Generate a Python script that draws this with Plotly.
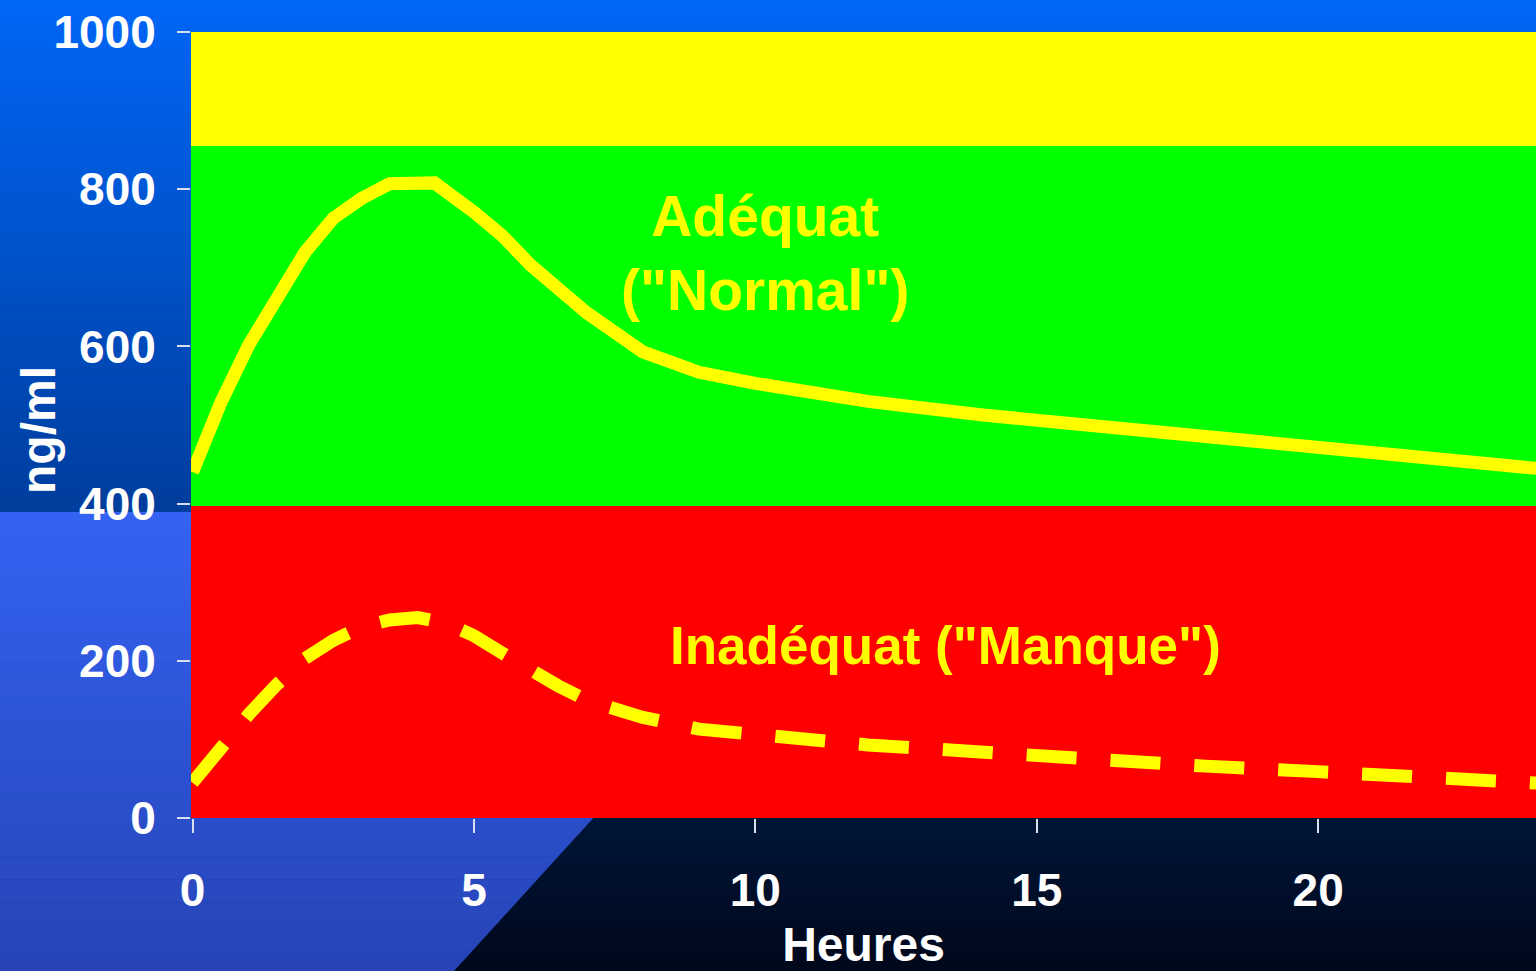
import plotly.graph_objects as go

# ---------------- data ----------------
hours_normal = [0, 0.5, 1, 1.5, 2, 2.5, 3, 3.5, 4, 4.3, 5, 5.5, 6, 7, 8, 9, 10, 12, 14, 16, 18, 20, 22, 24]
conc_normal = [440, 528, 602, 665, 720, 763, 788, 807, 810, 808, 771, 741, 704, 643, 593, 567, 553, 530, 513, 500, 484, 473, 459, 444]

hours_manque = [0, 0.5, 1, 1.5, 2, 2.5, 3, 3.5, 4, 4.5, 5, 5.5, 6, 6.5, 7, 8, 9, 10, 11, 12, 14, 16, 18, 20, 22, 24]
conc_manque = [45, 91, 132, 170, 203, 226, 243, 252, 255, 248, 232, 210, 187, 168, 150, 128, 113, 105, 99, 93, 84, 73, 66, 59, 52, 44]

band_names = ["Inadéquat", "Adéquat", "Excès"]
band_low = [0, 397, 855]
band_high = [397, 855, 1000]
band_colors = ["#ff0000", "#00ff00", "#ffff00"]

x_ticks = [0, 5, 10, 15, 20]
y_ticks = [0, 200, 400, 600, 800, 1000]

label_normal = 'Adéquat<br>("Normal")'
label_manque = 'Inadéquat ("Manque")'
x_title = "Heures"
y_title = "ng/ml"

# ---------------- layout geometry (pixels) ----------------
W, H = 1536, 971
L, T, B = 191, 32, 818
PW, PH = W - L, B - T


def px(xp):
    return (xp - L) / PW


def py(yp):
    return (B - yp) / PH


def lerp(c0, c1, t):
    return "rgb(%d,%d,%d)" % tuple(round(a + (b - a) * t) for a, b in zip(c0, c1))


shapes = []
n = 40
y_top, y_mid, y_bot = 0, 512, H
# upper gradient (bright blue -> darker blue)
for i in range(n):
    ya = y_top + (y_mid - y_top) * i / n
    yb = y_top + (y_mid - y_top) * (i + 1) / n + 0.6
    shapes.append(dict(type="rect", xref="paper", yref="paper", layer="below",
                       x0=px(0), x1=px(W), y0=py(yb), y1=py(ya),
                       fillcolor=lerp((0, 102, 246), (0, 62, 158), i / (n - 1)),
                       line=dict(width=0)))
# lower navy gradient
for i in range(n):
    ya = y_mid + (y_bot - y_mid) * i / n
    yb = y_mid + (y_bot - y_mid) * (i + 1) / n + 0.6
    shapes.append(dict(type="rect", xref="paper", yref="paper", layer="below",
                       x0=px(0), x1=px(W), y0=py(yb), y1=py(ya),
                       fillcolor=lerp((0, 48, 112), (0, 8, 28), i / (n - 1)),
                       line=dict(width=0)))


# lighter blue diagonal region in lower left
def edge(yp):
    return 872 + (yp - 512) * (454 - 872) / (971 - 512)


for i in range(n):
    ya = y_mid + (y_bot - y_mid) * i / n
    yb = y_mid + (y_bot - y_mid) * (i + 1) / n + 0.6
    path = "M %f,%f L %f,%f L %f,%f L %f,%f Z" % (
        px(0), py(ya), px(edge(ya)), py(ya), px(edge(yb)), py(yb), px(0), py(yb))
    shapes.append(dict(type="path", xref="paper", yref="paper", layer="below", path=path,
                       fillcolor=lerp((52, 98, 242), (38, 68, 182), i / (n - 1)),
                       line=dict(width=0)))

# concentration bands
for lo, hi, col in zip(band_low, band_high, band_colors):
    shapes.append(dict(type="rect", xref="paper", yref="y", layer="below",
                       x0=0, x1=1, y0=lo, y1=hi, fillcolor=col, line=dict(width=0)))

FONT = "Liberation Sans"

fig = go.Figure()
fig.add_trace(go.Scatter(x=hours_normal, y=conc_normal, mode="lines",
                         line=dict(color="#ffff00", width=13), hoverinfo="skip",
                         showlegend=False, cliponaxis=True))
fig.add_trace(go.Scatter(x=hours_manque, y=conc_manque, mode="lines",
                         line=dict(color="#ffff00", width=13, dash="50px,34px"),
                         hoverinfo="skip", showlegend=False, cliponaxis=True))

fig.add_annotation(x=10.17, y=719, xref="x", yref="y", text=label_normal, showarrow=False,
                   font=dict(family=FONT, size=57, color="#ffff00", weight="bold"),
                   align="center")
fig.add_annotation(x=13.37, y=220, xref="x", yref="y", text=label_manque, showarrow=False,
                   font=dict(family=FONT, size=53, color="#ffff00", weight="bold"),
                   align="center")
# y axis title as rotated annotation for exact placement
fig.add_annotation(x=px(39), y=py(430), xref="paper", yref="paper", text=y_title,
                   showarrow=False, textangle=-90, xanchor="center", yanchor="middle",
                   font=dict(family=FONT, size=48, color="white", weight="bold"))

tickfont = dict(family=FONT, size=46, color="white", weight="bold")
fig.update_layout(
    width=W, height=H,
    margin=dict(l=L, r=0, t=T, b=H - B, pad=0),
    paper_bgcolor="#002060", plot_bgcolor="rgba(0,0,0,0)",
    shapes=shapes,
    showlegend=False,
    xaxis=dict(range=[-0.027, 23.87], tickvals=x_ticks, ticks="outside", ticklen=14,
               tickcolor="#d8e0f0", tickwidth=1.5, showgrid=False, zeroline=False,
               showline=False, tickfont=tickfont, ticklabelstandoff=18,
               title=dict(text=x_title, font=dict(family=FONT, size=48, color="white", weight="bold"),
                          standoff=16)),
    yaxis=dict(range=[0, 1000], tickvals=y_ticks, ticks="outside", ticklen=13,
               tickcolor="#d8e0f0", tickwidth=1.5, showgrid=False, zeroline=False,
               showline=False, tickfont=tickfont, ticklabelstandoff=12),
)

fig.write_html("out.html", config=dict(displayModeBar=False),
               post_script="document.body.style.margin='0';document.body.style.overflow='hidden';")
